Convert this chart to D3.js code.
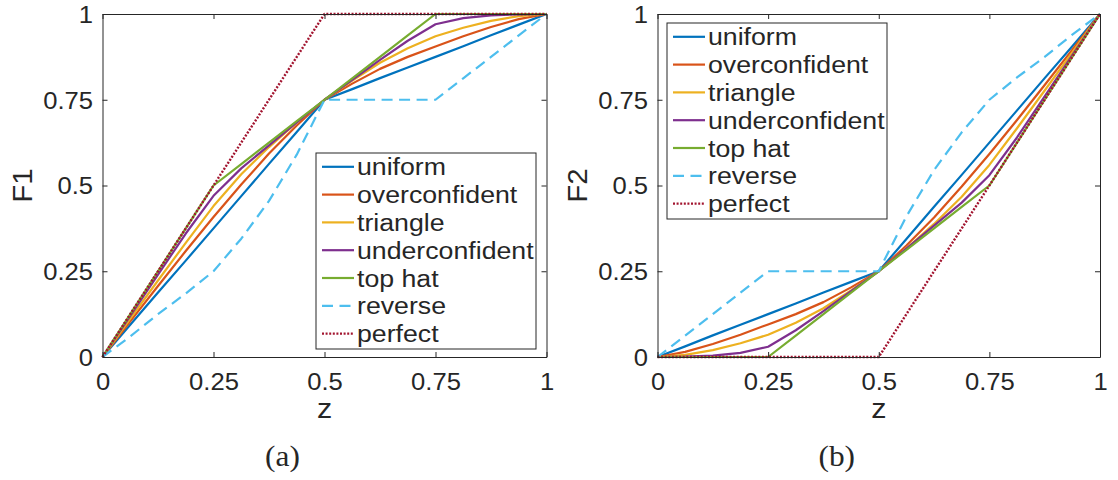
<!DOCTYPE html>
<html>
<head>
<meta charset="utf-8">
<script src="https://cdn.jsdelivr.net/npm/d3@7/dist/d3.min.js"></script>
<style>
  body { margin: 0; background: #fff; }
  svg { display: block; }
  text { fill: #262626; }
</style>
</head>
<body>
<svg id="chart" width="1118" height="480"></svg>
<script>
// values
const seriesNames = ["uniform", "overconfident", "triangle", "underconfident", "top hat", "reverse", "perfect"];
const seriesColors = ["#0072BD", "#D95319", "#EDB120", "#7E2F8E", "#77AC30", "#4DBEEE", "#A2142F"];

const zGrid = [0, 0.0625, 0.125, 0.1875, 0.25, 0.3125, 0.375, 0.4375, 0.5,
               0.5625, 0.625, 0.6875, 0.75, 0.8125, 0.875, 0.9375, 1];
const zPerfect = [0, 0.5, 1];

// panel (a): F1
const f1Uniform        = [0, 0.094, 0.188, 0.281, 0.375, 0.469, 0.563, 0.656, 0.75, 0.781, 0.813, 0.844, 0.875, 0.906, 0.938, 0.969, 1];
const f1Overconfident  = [0, 0.104, 0.207, 0.309, 0.408, 0.503, 0.593, 0.675, 0.75, 0.797, 0.84, 0.875, 0.905, 0.935, 0.962, 0.985, 1];
const f1Triangle       = [0, 0.112, 0.223, 0.333, 0.44, 0.533, 0.612, 0.684, 0.75, 0.806, 0.858, 0.9, 0.935, 0.96, 0.98, 0.994, 1];
const f1Underconfident = [0, 0.12, 0.24, 0.36, 0.47, 0.55, 0.617, 0.684, 0.75, 0.808, 0.866, 0.922, 0.97, 0.988, 0.996, 0.999, 1];
const f1TopHat         = [0, 0.125, 0.25, 0.375, 0.5, 0.5625, 0.625, 0.6875, 0.75, 0.8125, 0.875, 0.9375, 1, 1, 1, 1, 1];
const f1Reverse        = [0, 0.06, 0.125, 0.185, 0.25, 0.345, 0.455, 0.59, 0.75, 0.75, 0.75, 0.75, 0.75, 0.8125, 0.875, 0.9375, 1];
const f1Perfect        = [0, 1, 1];

// panel (b): F2
const f2Uniform        = [0, 0.031, 0.063, 0.094, 0.125, 0.156, 0.188, 0.219, 0.25, 0.344, 0.438, 0.531, 0.625, 0.719, 0.813, 0.906, 1];
const f2Overconfident  = [0, 0.015, 0.038, 0.065, 0.095, 0.125, 0.16, 0.203, 0.25, 0.325, 0.407, 0.497, 0.592, 0.691, 0.793, 0.896, 1];
const f2Triangle       = [0, 0.006, 0.02, 0.04, 0.065, 0.1, 0.142, 0.194, 0.25, 0.316, 0.388, 0.467, 0.56, 0.667, 0.777, 0.888, 1];
const f2Underconfident = [0, 0.001, 0.004, 0.012, 0.03, 0.078, 0.134, 0.192, 0.25, 0.316, 0.383, 0.45, 0.53, 0.64, 0.76, 0.88, 1];
const f2TopHat         = [0, 0, 0, 0, 0, 0.0625, 0.125, 0.1875, 0.25, 0.3125, 0.375, 0.4375, 0.5, 0.625, 0.75, 0.875, 1];
const f2Reverse        = [0, 0.0625, 0.125, 0.1875, 0.25, 0.25, 0.25, 0.25, 0.25, 0.41, 0.545, 0.655, 0.75, 0.815, 0.875, 0.94, 1];
const f2Perfect        = [0, 0, 1];

const tickValues = [0, 0.25, 0.5, 0.75, 1];
const tickLabels = ["0", "0.25", "0.5", "0.75", "1"];

const SANS = "'Liberation Sans', Arial, Helvetica, sans-serif";
const SERIF = "'Liberation Serif', 'Times New Roman', serif";
const STRETCH = 1.09;   // the original text is a bit wider than Arial

const svg = d3.select("#chart");

const panels = [
  { x0: 102.5, x1: 546.5, ylab: "F1", cap: "(a)", legend: "bottomright",
    data: [f1Uniform, f1Overconfident, f1Triangle, f1Underconfident, f1TopHat, f1Reverse, f1Perfect] },
  { x0: 657.5, x1: 1100, ylab: "F2", cap: "(b)", legend: "topleft",
    data: [f2Uniform, f2Overconfident, f2Triangle, f2Underconfident, f2TopHat, f2Reverse, f2Perfect] }
];

const yTop = 14, yBottom = 357;

function styleLine(sel, i) {
  sel.attr("fill", "none")
    .attr("stroke", seriesColors[i])
    .attr("stroke-width", 2.2)
    .attr("stroke-linejoin", "round");
  if (seriesNames[i] == "reverse") sel.attr("stroke-dasharray", "11,6.5");
  if (seriesNames[i] == "perfect") sel.attr("stroke-dasharray", "2,1.6").attr("stroke-width", 2.4);
}

function stretchedText(g, x, y, str, size, anchor, rot) {
  return g.append("text")
    .attr("transform", `translate(${x},${y})` + (rot ? ` rotate(${rot})` : "") + ` scale(${STRETCH},1)`)
    .attr("text-anchor", anchor)
    .style("font-family", SANS)
    .style("font-size", size + "px")
    .text(str);
}

panels.forEach(p => {
  const x = d3.scaleLinear().domain([0, 1]).range([p.x0, p.x1]);
  const y = d3.scaleLinear().domain([0, 1]).range([yBottom, yTop]);
  const g = svg.append("g");

  // series
  const line = d3.line().x(d => x(d[0])).y(d => y(d[1]));
  p.data.forEach((vals, i) => {
    const zs = seriesNames[i] == "perfect" ? zPerfect : zGrid;
    const pts = zs.map((z, k) => [z, vals[k]]);
    g.append("path").attr("d", line(pts)).call(styleLine, i);
  });

  // axes, MATLAB style: box on, ticks inward
  const axes = g.append("g").style("font-family", SANS);
  const bottom = axes.append("g").attr("transform", `translate(0,${yBottom})`)
    .call(d3.axisBottom(x).tickValues(tickValues).tickSize(-5).tickSizeOuter(0)
      .tickFormat((d, i) => tickLabels[i]));
  bottom.selectAll("text").attr("y", 33).attr("dy", null)
    .attr("transform", `scale(${STRETCH},1)`).style("font-size", "23.5px").attr("fill", "#262626");
  const left = axes.append("g").attr("transform", `translate(${p.x0},0)`)
    .call(d3.axisLeft(y).tickValues(tickValues).tickSize(-5).tickSizeOuter(0)
      .tickFormat((d, i) => tickLabels[i]));
  left.selectAll("text").attr("x", -9.5 / STRETCH).attr("dy", "0.36em")
    .attr("transform", `scale(${STRETCH},1)`).style("font-size", "23.5px").attr("fill", "#262626");
  axes.append("g").attr("transform", `translate(0,${yTop})`)
    .call(d3.axisTop(x).tickValues(tickValues).tickSize(-5).tickSizeOuter(0).tickFormat(""));
  axes.append("g").attr("transform", `translate(${p.x1},0)`)
    .call(d3.axisRight(y).tickValues(tickValues).tickSize(-5).tickSizeOuter(0).tickFormat(""));
  axes.selectAll("path.domain, .tick line").attr("stroke", "#262626").attr("stroke-width", 1);

  // labels
  stretchedText(g, (p.x0 + p.x1) / 2, 418, "z", 28, "middle");
  stretchedText(g, p.x0 - 71, (yTop + yBottom) / 2, p.ylab, 27, "middle", -90);
  g.append("text")
    .attr("transform", `translate(${(p.x0 + p.x1) / 2 - 42},466) scale(1.08,1)`)
    .attr("text-anchor", "middle")
    .style("font-family", SERIF)
    .style("font-size", "29px")
    .text(p.cap);

  // legend
  const lw = 220, lh = 196;
  const lx = p.legend == "topleft" ? p.x0 + 9.5 : p.x1 - 10.5 - lw;
  const ly = p.legend == "topleft" ? yTop + 9 : yBottom - 8 - lh;
  const leg = g.append("g").attr("transform", `translate(${lx},${ly})`);
  leg.append("rect").attr("width", lw).attr("height", lh)
    .attr("fill", "#fff").attr("stroke", "#262626").attr("stroke-width", 1);
  seriesNames.forEach((name, i) => {
    const ry = 13.8 + i * 27.8;
    leg.append("line").attr("x1", 6).attr("x2", 38).attr("y1", ry).attr("y2", ry).call(styleLine, i);
    stretchedText(leg, 41, ry, name, 24.5, "start").attr("dy", "0.35em");
  });
});
</script>
</body>
</html>
